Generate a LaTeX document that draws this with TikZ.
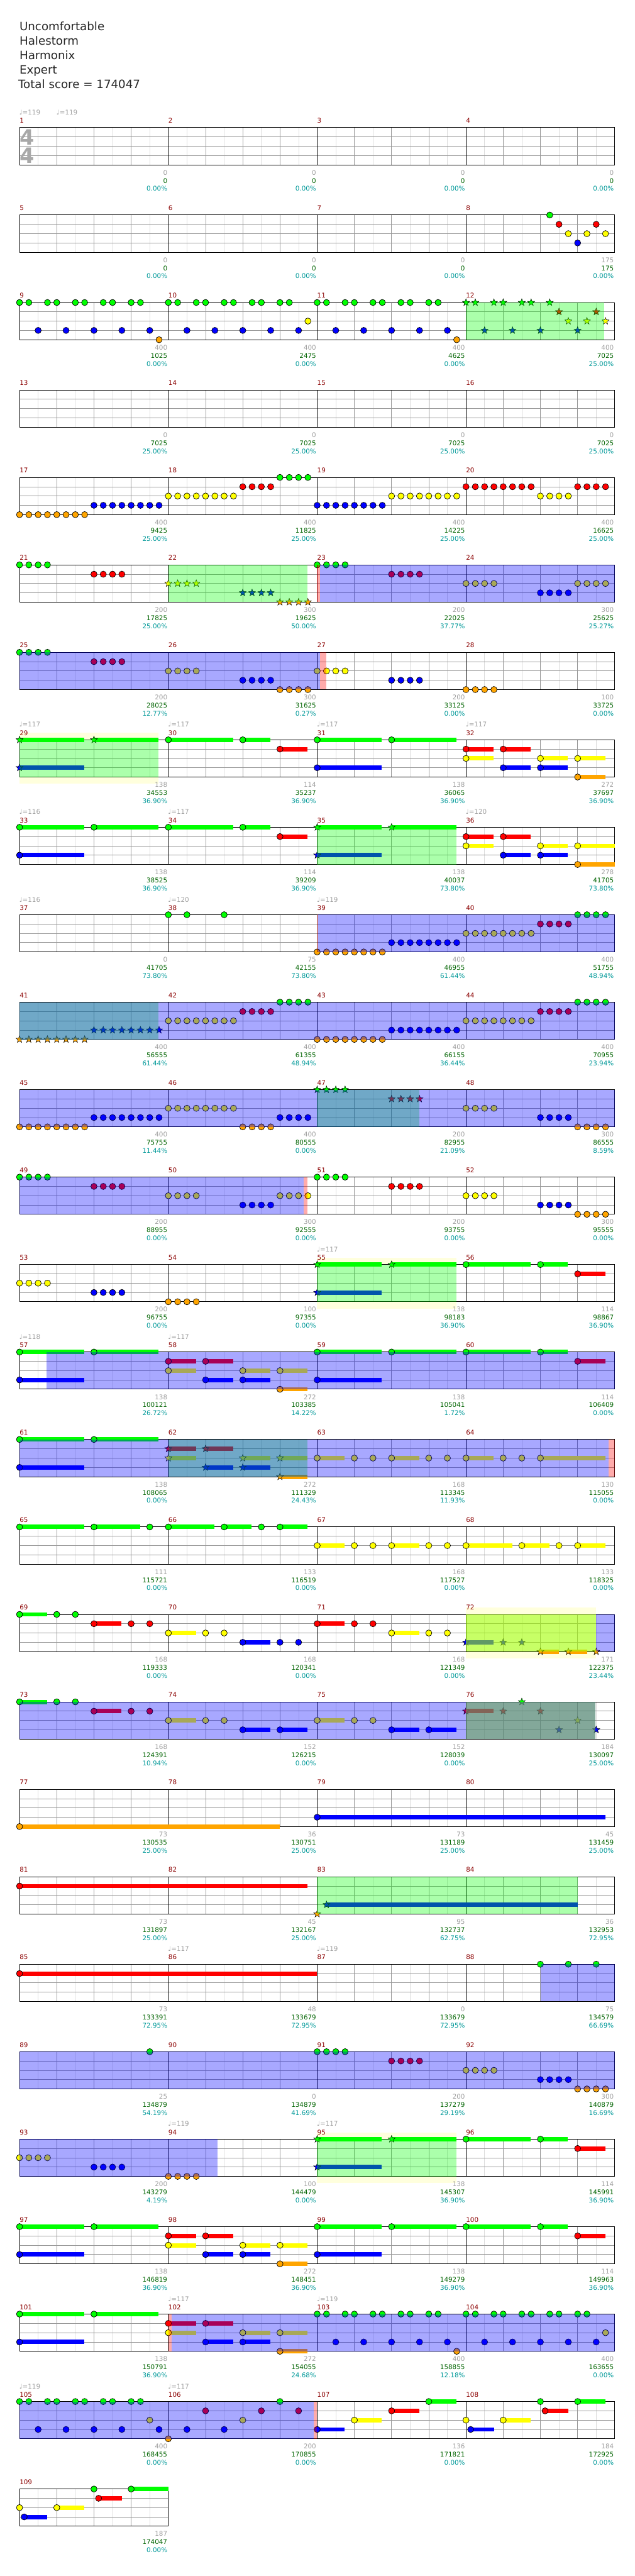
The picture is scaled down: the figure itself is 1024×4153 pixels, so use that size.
\documentclass[tikz,border=0pt]{standalone}
\usepackage{fontspec}
\setmainfont{DejaVu Sans}
\usetikzlibrary{shapes.geometric}
\definecolor{lc0}{HTML}{00FF00}
\definecolor{lc1}{HTML}{FF0000}
\definecolor{lc2}{HTML}{FFFF00}
\definecolor{lc3}{HTML}{0000FF}
\definecolor{lc4}{HTML}{FFA500}
\definecolor{mnumc}{HTML}{8B0000}
\definecolor{sc1}{HTML}{A0A0A0}
\definecolor{sc2}{HTML}{006400}
\definecolor{sc3}{HTML}{009999}
\definecolor{gridA}{HTML}{999999}
\definecolor{gridB}{HTML}{DDDDDD}
\definecolor{paley}{HTML}{FFFFDD}
\definecolor{limec}{RGB}{163,255,0}
\definecolor{tsgray}{HTML}{A8A8A8}
\newcommand\mpos[2]{%
  \pgfmathtruncatemacro\mrow{(#1-1)/4}%
  \pgfmathtruncatemacro\mcol{#1-1-4*\mrow}%
  \pgfmathsetmacro\XX{31.5+240*\mcol+60*(#2)}%
  \pgfmathsetmacro\TT{205.7+141*\mrow}}
\newcommand\Nt[3]{\mpos{#1}{#2}\pgfmathsetmacro\YY{\TT+15*(#3)}%
  \filldraw[fill=lc#3,draw=black,line width=0.7pt] (\XX,\YY) circle (5pt);}
\newcommand\St[3]{\mpos{#1}{#2}\pgfmathsetmacro\YY{\TT+15*(#3)}%
  \node[starn,fill=lc#3] at (\XX,\YY) {};}
\newcommand\Sus[4]{\mpos{#1}{#2}\pgfmathsetmacro\YY{\TT+15*(#3)}%
  \pgfmathsetmacro\XE{\XX+60*(#4)}\draw[line width=7pt,lc#3] (\XX,\YY) -- (\XE,\YY);}
\newcommand\Ns[4]{\Sus{#1}{#2}{#3}{#4}\Nt{#1}{#2}{#3}}
\newcommand\Ss[4]{\Sus{#1}{#2}{#3}{#4}\St{#1}{#2}{#3}}
\newcommand\Rn[5]{\foreach \kk in {1,...,#4}{#5{#1}{#2+0.25*\kk-0.25}{#3}}}
\newcommand\Dpat[2]{\foreach \qq in {0,...,4}{\Nt{#1}{0.75*\qq}{0}\Nt{#1}{0.75*\qq+0.25}{0}\Nt{#1}{0.75*\qq+0.5}{3}}\Nt{#1}{3.75}{#2}}
\newcommand\TA[2]{#2{#1}{0}{0}{1.74}#2{#1}{2}{0}{1.74}#2{#1}{0}{3}{1.74}}
\newcommand\TB[1]{\Ns{#1}{0}{0}{1.74}\Ns{#1}{2}{0}{0.74}\Ns{#1}{3}{1}{0.74}}
\newcommand\TC[2]{#2{#1}{0}{1}{0.74}#2{#1}{1}{1}{0.74}#2{#1}{0}{2}{0.74}#2{#1}{2}{2}{0.74}#2{#1}{3}{2}{0.74}#2{#1}{1}{3}{0.74}#2{#1}{2}{3}{0.74}#2{#1}{3}{4}{0.74}}
\newcommand\TE[3]{\Ns{#1}{0}{#2}{0.74}\Nt{#1}{1}{#2}\Nt{#1}{1.5}{#2}\Ns{#1}{2}{#3}{0.74}\Nt{#1}{3}{#3}\Nt{#1}{3.5}{#3}}
\newcommand\Reg[5]{\mpos{#1}{#2}\let\XA\XX\mpos{#3}{#4}\fill[#5] (\XA,\TT) rectangle (\XX,\TT+60);}
\newcommand\Yext[4]{\mpos{#1}{#2}\let\XA\XX\mpos{#3}{#4}\fill[paley] (\XA,\TT-11) rectangle (\XX,\TT+71);}
\newcommand\Actl[1]{\mpos{#1}{0}\draw[mnumc,line width=1pt] (\XX,\TT) -- (\XX,\TT+60);}
\tikzset{
  starn/.style={star,star points=5,star point ratio=2.4,minimum size=12pt,inner sep=0pt,draw=black,line width=0.5pt},
  greg/.style={fill=lc0,fill opacity=0.33},
  limereg/.style={fill=limec,fill opacity=0.6},
  breg/.style={fill=lc3,fill opacity=0.34},
  preg/.style={fill=lc1,fill opacity=0.33},
  small/.style={inner sep=0pt,font=\fontsize{10.5}{12}\selectfont},
  mlab/.style={small,anchor=base west,text=mnumc},
  sA/.style={small,anchor=base east,text=sc1},
  sB/.style={small,anchor=base east,text=sc2},
  sC/.style={small,anchor=base east,text=sc3},
  tempo/.style={small,anchor=base west,text=sc1},
  title/.style={inner sep=0pt,anchor=base west,font=\fontsize{18.5}{20}\selectfont,text=black!85},
  tsig/.style={inner sep=0pt,font=\fontsize{34}{36}\selectfont\bfseries,text=tsgray}
}
\begin{document}
\begin{tikzpicture}[x=1pt,y=-1pt]
\useasboundingbox (0,0) rectangle (1024,4153);
\fill[white] (0,0) rectangle (1024,4153);
% title
\node[title] (t1) at (31.3,49) {Uncomfortable};
\node[title] (t2) at (31.3,72.3) {Halestorm};
\node[title] (t3) at (31.3,95.6) {Harmonix};
\node[title] (t4) at (31.3,118.9) {Expert};
\node[title] (t5) at (29.3,142.2) {Total score = 174047};
% pale yellow extensions
\Yext{29}{0}{29}{3.73}
\Yext{55}{0}{55}{3.74}
\Yext{95}{0}{95}{3.74}
\Yext{72}{0}{72}{3.5}
% staffs
\foreach \rr in {0,...,27}{
  \pgfmathsetmacro\TT{205.7+141*\rr}
  \pgfmathtruncatemacro\nm{\rr<27 ? 4 : 1}
  \pgfmathsetmacro\WW{240*\nm}
  \fill[white] (31.5,\TT) rectangle (31.5+\WW,\TT+60);
  \foreach \ii in {1,...,\nm}{
    \foreach \oo in {30,90,150,210}{\draw[gridB,line width=0.8pt] (31.5+240*\ii-240+\oo,\TT) -- (31.5+240*\ii-240+\oo,\TT+60);}
    \foreach \oo in {60,120,180}{\draw[gridA,line width=0.8pt] (31.5+240*\ii-240+\oo,\TT) -- (31.5+240*\ii-240+\oo,\TT+60);}
  }
  \foreach \yy in {15,30,45}{\draw[gridA,line width=0.8pt] (31.5,\TT+\yy) -- (31.5+\WW,\TT+\yy);}
  \foreach \ii in {1,...,\nm}{\draw[black,line width=0.9pt] (31.5+240*\ii-240,\TT) -- (31.5+240*\ii-240,\TT+60);}
  \draw[black,line width=1pt] (31.5,\TT) rectangle (31.5+\WW,\TT+60);
}
% time signature
\node[tsig] (ts1) at (44,221) {4};
\node[tsig] (ts2) at (44,251) {4};
% ---- notes ----
\Nt{8}{2.25}{0}\Nt{8}{2.5}{1}\Nt{8}{2.75}{2}\Nt{8}{3}{3}\Nt{8}{3.25}{2}\Nt{8}{3.5}{1}\Nt{8}{3.75}{2}
\Dpat{9}{4}\Dpat{10}{2}\Dpat{11}{4}
\foreach \qq in {0,1,2}{\St{12}{0.75*\qq}{0}\St{12}{0.75*\qq+0.25}{0}\St{12}{0.75*\qq+0.5}{3}}
\St{12}{2.25}{0}\St{12}{2.5}{1}\St{12}{2.75}{2}\St{12}{3}{3}\St{12}{3.25}{2}\St{12}{3.5}{1}\St{12}{3.75}{2}
\Rn{17}{0}{4}{8}{\Nt}\Rn{17}{2}{3}{8}{\Nt}
\Rn{18}{0}{2}{8}{\Nt}\Rn{18}{2}{1}{4}{\Nt}\Rn{18}{3}{0}{4}{\Nt}
\Rn{19}{0}{3}{8}{\Nt}\Rn{19}{2}{2}{8}{\Nt}
\Rn{20}{0}{1}{8}{\Nt}\Rn{20}{2}{2}{4}{\Nt}\Rn{20}{3}{1}{4}{\Nt}
\Rn{21}{0}{0}{4}{\Nt}\Rn{21}{2}{1}{4}{\Nt}
\Rn{22}{0}{2}{4}{\St}\Rn{22}{2}{3}{4}{\St}\Rn{22}{3}{4}{4}{\St}
\Rn{23}{0}{0}{4}{\Nt}\Rn{23}{2}{1}{4}{\Nt}
\Rn{24}{0}{2}{4}{\Nt}\Rn{24}{2}{3}{4}{\Nt}\Rn{24}{3}{2}{4}{\Nt}
\Rn{25}{0}{0}{4}{\Nt}\Rn{25}{2}{1}{4}{\Nt}
\Rn{26}{0}{2}{4}{\Nt}\Rn{26}{2}{3}{4}{\Nt}\Rn{26}{3}{4}{4}{\Nt}
\Rn{27}{0}{2}{4}{\Nt}\Rn{27}{2}{3}{4}{\Nt}
\Rn{28}{0}{4}{4}{\Nt}
\TA{29}{\Ss}\TB{30}\TA{31}{\Ns}\TC{32}{\Ns}
\TA{33}{\Ns}\TB{34}\TA{35}{\Ss}
\Ns{36}{0}{1}{0.74}\Ns{36}{1}{1}{0.74}\Ns{36}{0}{2}{0.74}\Ns{36}{2}{2}{0.74}\Ns{36}{3}{2}{1}\Ns{36}{1}{3}{0.74}\Ns{36}{2}{3}{0.74}\Ns{36}{3}{4}{1}
\Nt{38}{0}{0}\Nt{38}{0.5}{0}\Nt{38}{1.5}{0}
\Rn{39}{0}{4}{8}{\Nt}\Rn{39}{2}{3}{8}{\Nt}
\Rn{40}{0}{2}{8}{\Nt}\Rn{40}{2}{1}{4}{\Nt}\Rn{40}{3}{0}{4}{\Nt}
\Rn{41}{0}{4}{8}{\St}\Rn{41}{2}{3}{8}{\St}
\Rn{42}{0}{2}{8}{\Nt}\Rn{42}{2}{1}{4}{\Nt}\Rn{42}{3}{0}{4}{\Nt}
\Rn{43}{0}{4}{8}{\Nt}\Rn{43}{2}{3}{8}{\Nt}
\Rn{44}{0}{2}{8}{\Nt}\Rn{44}{2}{1}{4}{\Nt}\Rn{44}{3}{0}{4}{\Nt}
\Rn{45}{0}{4}{8}{\Nt}\Rn{45}{2}{3}{8}{\Nt}
\Rn{46}{0}{2}{8}{\Nt}\Rn{46}{2}{4}{4}{\Nt}\Rn{46}{3}{3}{4}{\Nt}
\Rn{47}{0}{0}{4}{\St}\Rn{47}{2}{1}{4}{\St}
\Rn{48}{0}{2}{4}{\Nt}\Rn{48}{2}{3}{4}{\Nt}\Rn{48}{3}{4}{4}{\Nt}
\Rn{49}{0}{0}{4}{\Nt}\Rn{49}{2}{1}{4}{\Nt}
\Rn{50}{0}{2}{4}{\Nt}\Rn{50}{2}{3}{4}{\Nt}\Rn{50}{3}{2}{4}{\Nt}
\Rn{51}{0}{0}{4}{\Nt}\Rn{51}{2}{1}{4}{\Nt}
\Rn{52}{0}{2}{4}{\Nt}\Rn{52}{2}{3}{4}{\Nt}\Rn{52}{3}{4}{4}{\Nt}
\Rn{53}{0}{2}{4}{\Nt}\Rn{53}{2}{3}{4}{\Nt}
\Rn{54}{0}{4}{4}{\Nt}
\TA{55}{\Ss}\TB{56}
\TA{57}{\Ns}\TC{58}{\Ns}\TA{59}{\Ns}\TB{60}
\TA{61}{\Ns}\TC{62}{\Ss}
\Ns{63}{0}{2}{0.74}\Nt{63}{1}{2}\Nt{63}{1.5}{2}\Ns{63}{2}{2}{0.74}\Nt{63}{3}{2}\Nt{63}{3.5}{2}
\Ns{64}{0}{2}{0.74}\Nt{64}{1}{2}\Nt{64}{1.5}{2}\Ns{64}{2}{2}{1.74}
\Ns{65}{0}{0}{1.74}\Ns{65}{2}{0}{1.24}\Nt{65}{3.5}{0}
\Ns{66}{0}{0}{1.24}\Ns{66}{1.5}{0}{0.74}\Nt{66}{2.5}{0}\Ns{66}{3}{0}{0.74}
\Ns{67}{0}{2}{0.74}\Nt{67}{1}{2}\Nt{67}{1.5}{2}\Ns{67}{2}{2}{0.74}\Nt{67}{3}{2}\Nt{67}{3.5}{2}
\Ns{68}{0}{2}{1.24}\Ns{68}{1.5}{2}{0.74}\Nt{68}{2.5}{2}\Ns{68}{3}{2}{0.74}
\TE{69}{0}{1}\TE{70}{2}{3}\TE{71}{1}{2}
\Ss{72}{0}{3}{0.74}\St{72}{1}{3}\St{72}{1.5}{3}\Ss{72}{2}{4}{0.5}\Ss{72}{2.75}{4}{0.5}\St{72}{3.5}{4}
\TE{73}{0}{1}
\Ns{74}{0}{2}{0.74}\Nt{74}{1}{2}\Nt{74}{1.5}{2}\Ns{74}{2}{3}{0.74}\Ns{74}{3}{3}{0.74}
\Ns{75}{0}{2}{0.74}\Nt{75}{1}{2}\Nt{75}{1.5}{2}\Ns{75}{2}{3}{0.74}\Ns{75}{3}{3}{0.74}
\Ss{76}{0}{1}{0.74}\St{76}{1}{1}\St{76}{1.5}{0}\St{76}{2}{1}\St{76}{2.5}{3}\St{76}{3}{2}\St{76}{3.5}{3}
\Ns{77}{0}{4}{7}\Ns{79}{0}{3}{7.74}
\Ns{81}{0}{1}{7.74}\St{83}{0}{4}\Ss{83}{0.25}{3}{6.75}
\Ns{85}{0}{1}{8}
\Nt{88}{2}{0}\Nt{88}{2.75}{0}\Nt{88}{3.5}{0}
\Nt{89}{3.5}{0}
\Rn{91}{0}{0}{4}{\Nt}\Rn{91}{2}{1}{4}{\Nt}
\Rn{92}{0}{2}{4}{\Nt}\Rn{92}{2}{3}{4}{\Nt}\Rn{92}{3}{4}{4}{\Nt}
\Rn{93}{0}{2}{4}{\Nt}\Rn{93}{2}{3}{4}{\Nt}
\Rn{94}{0}{4}{4}{\Nt}
\TA{95}{\Ss}\TB{96}
\TA{97}{\Ns}\TC{98}{\Ns}\TA{99}{\Ns}\TB{100}
\TA{101}{\Ns}\TC{102}{\Ns}\Dpat{103}{4}\Dpat{104}{2}
\foreach \qq in {0,...,4}{\Nt{105}{0.75*\qq}{0}\Nt{105}{0.75*\qq+0.25}{0}}
\Nt{105}{0.5}{3}\Nt{105}{1.25}{3}\Nt{105}{2}{3}\Nt{105}{2.75}{3}\Nt{105}{3.5}{2}\Nt{105}{3.75}{3}
\Nt{106}{0}{4}\Nt{106}{0.5}{3}\Nt{106}{1}{1}\Nt{106}{1.5}{3}\Nt{106}{2}{2}\Nt{106}{2.5}{1}\Nt{106}{3}{0}\Nt{106}{3.5}{1}
\Ns{107}{0}{3}{0.74}\Ns{107}{1}{2}{0.74}\Ns{107}{2}{1}{0.74}\Ns{107}{3}{0}{0.74}
\Nt{108}{0}{2}\Ns{108}{0.125}{3}{0.625}\Ns{108}{1}{2}{0.74}\Nt{108}{2}{0}\Ns{108}{2.125}{1}{0.625}\Ns{108}{3}{0}{0.74}
\Nt{109}{0}{2}\Ns{109}{0.125}{3}{0.625}\Ns{109}{1}{2}{0.74}\Nt{109}{2}{0}\Ns{109}{2.125}{1}{0.625}\Ns{109}{3}{0}{1}
% ---- star phrase regions ----
\Reg{12}{0}{12}{3.72}{greg}
\Reg{22}{0}{22}{3.74}{greg}
\Reg{29}{0}{29}{3.73}{greg}
\Reg{35}{0}{35}{3.74}{greg}
\Reg{41}{0}{41}{3.73}{greg}
\Reg{47}{0}{47}{2.74}{greg}
\Reg{55}{0}{55}{3.74}{greg}
\Reg{62}{0}{62}{3.73}{greg}
\Reg{83}{0}{84}{3}{greg}
\Reg{95}{0}{95}{3.74}{greg}
\Reg{72}{0}{72}{3.5}{limereg}
\Reg{76}{0}{76}{3.48}{limereg}
% ---- overdrive regions ----
\Reg{23}{0.075}{24}{4}{breg}
\Reg{25}{0}{27}{0.07}{breg}
\Reg{39}{0.02}{40}{4}{breg}
\Reg{41}{0}{44}{4}{breg}
\Reg{45}{0}{48}{4}{breg}
\Reg{49}{0}{50}{3.64}{breg}
\Reg{57}{0.73}{60}{4}{breg}
\Reg{61}{0}{64}{3.83}{breg}
\Reg{72}{3.5}{72}{4}{breg}
\Reg{73}{0}{76}{3.48}{breg}
\Reg{88}{2}{88}{4}{breg}
\Reg{89}{0}{92}{4}{breg}
\Reg{93}{0}{94}{1.33}{breg}
\Reg{102}{0.08}{104}{4}{breg}
\Reg{105}{0}{106}{3.9}{breg}
% ---- pink strips ----
\Reg{23}{0}{23}{0.075}{preg}
\Reg{27}{0.07}{27}{0.24}{preg}
\Reg{50}{3.64}{50}{3.73}{preg}
\Reg{64}{3.83}{64}{4}{preg}
\Reg{102}{0}{102}{0.08}{preg}
\Reg{106}{3.9}{106}{4}{preg}
\Actl{23}\Actl{39}
% ---- labels ----
\foreach \mm/\va/\vb/\vc in {1/0/0/0.00, 2/0/0/0.00, 3/0/0/0.00, 4/0/0/0.00, 5/0/0/0.00, 6/0/0/0.00, 7/0/0/0.00, 8/175/175/0.00, 9/400/1025/0.00, 10/400/2475/0.00, 11/400/4625/0.00, 12/400/7025/25.00, 13/0/7025/25.00, 14/0/7025/25.00, 15/0/7025/25.00, 16/0/7025/25.00, 17/400/9425/25.00, 18/400/11825/25.00, 19/400/14225/25.00, 20/400/16625/25.00, 21/200/17825/25.00, 22/300/19625/50.00, 23/200/22025/37.77, 24/300/25625/25.27, 25/200/28025/12.77, 26/300/31625/0.27, 27/200/33125/0.00, 28/100/33725/0.00, 29/138/34553/36.90, 30/114/35237/36.90, 31/138/36065/36.90, 32/272/37697/36.90, 33/138/38525/36.90, 34/114/39209/36.90, 35/138/40037/73.80, 36/278/41705/73.80, 37/0/41705/73.80, 38/75/42155/73.80, 39/400/46955/61.44, 40/400/51755/48.94, 41/400/56555/61.44, 42/400/61355/48.94, 43/400/66155/36.44, 44/400/70955/23.94, 45/400/75755/11.44, 46/400/80555/0.00, 47/200/82955/21.09, 48/300/86555/8.59, 49/200/88955/0.00, 50/300/92555/0.00, 51/200/93755/0.00, 52/300/95555/0.00, 53/200/96755/0.00, 54/100/97355/0.00, 55/138/98183/36.90, 56/114/98867/36.90, 57/138/100121/26.72, 58/272/103385/14.22, 59/138/105041/1.72, 60/114/106409/0.00, 61/138/108065/0.00, 62/272/111329/24.43, 63/168/113345/11.93, 64/130/115055/0.00, 65/111/115721/0.00, 66/133/116519/0.00, 67/168/117527/0.00, 68/133/118325/0.00, 69/168/119333/0.00, 70/168/120341/0.00, 71/168/121349/0.00, 72/171/122375/23.44, 73/168/124391/10.94, 74/152/126215/0.00, 75/152/128039/0.00, 76/184/130097/25.00, 77/73/130535/25.00, 78/36/130751/25.00, 79/73/131189/25.00, 80/45/131459/25.00, 81/73/131897/25.00, 82/45/132167/25.00, 83/95/132737/62.75, 84/36/132953/72.95, 85/73/133391/72.95, 86/48/133679/72.95, 87/0/133679/72.95, 88/75/134579/66.69, 89/25/134879/54.19, 90/0/134879/41.69, 91/200/137279/29.19, 92/300/140879/16.69, 93/200/143279/4.19, 94/100/144479/0.00, 95/138/145307/36.90, 96/114/145991/36.90, 97/138/146819/36.90, 98/272/148451/36.90, 99/138/149279/36.90, 100/114/149963/36.90, 101/138/150791/36.90, 102/272/154055/24.68, 103/400/158855/12.18, 104/400/163655/0.00, 105/400/168455/0.00, 106/200/170855/0.00, 107/136/171821/0.00, 108/184/172925/0.00, 109/187/174047/0.00}{
  \mpos{\mm}{0}
  \node[mlab] (mn\mm) at (\XX,\TT-7.4) {\mm};
  \mpos{\mm}{4}
  \node[sA] (sa\mm) at (\XX-1.5,\TT+76.3) {\va};
  \node[sB] (sb\mm) at (\XX-1.5,\TT+89.4) {\vb};
  \node[sC] (sc\mm) at (\XX-1.5,\TT+102.4) {\vc\%};
}
\foreach \mm/\bb/\tv [count=\ci] in {1/0/119, 1/1/119, 29/0/117, 30/0/117, 31/0/117, 32/0/117, 33/0/116, 34/0/117, 36/0/120, 37/0/116, 38/0/120, 39/0/119, 55/0/117, 57/0/118, 58/0/117, 86/0/117, 87/0/119, 94/0/119, 95/0/117, 102/0/117, 103/0/119, 105/0/119, 106/0/117}{
  \mpos{\mm}{\bb}
  \node[tempo] (tp\ci) at (\XX-0.5,\TT-20.7) {♩=\tv};
}
\end{tikzpicture}
\end{document}
